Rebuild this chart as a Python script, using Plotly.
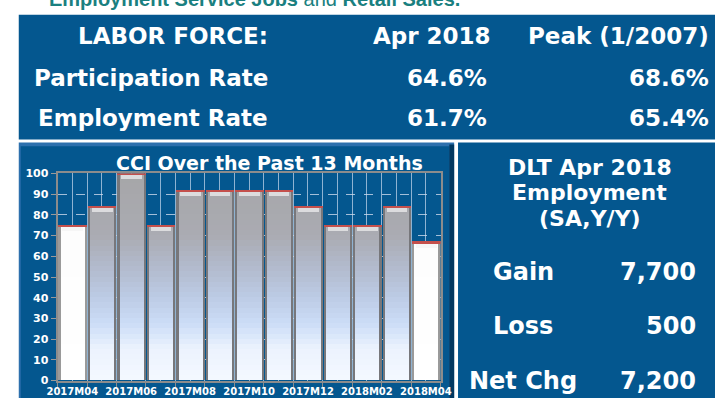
import plotly.graph_objects as go
import numpy as np

W, H = 726, 405
BLUE = "#04578f"

# ---------------- data ----------------
months = ["2017M04", "2017M05", "2017M06", "2017M07", "2017M08", "2017M09", "2017M10",
          "2017M11", "2017M12", "2018M01", "2018M02", "2018M03", "2018M04"]
cci = [75, 84, 100, 75, 92, 92, 92, 92, 84, 75, 75, 84, 67]
highlight = [True, False, False, False, False, False, False, False, False, False, False, False, True]

labor_rows = ["LABOR FORCE:", "Participation Rate", "Employment Rate"]
apr_vals = ["Apr 2018", "64.6%", "61.7%"]
peak_vals = ["Peak (1/2007)", "68.6%", "65.4%"]

dlt_title = ["DLT Apr 2018", "Employment", "(SA,Y/Y)"]
dlt_labels = ["Gain", "Loss", "Net Chg"]
dlt_values = [7700, 500, 7200]

chart_title = "CCI Over the Past 13 Months"
header_text = "<b>Employment Service Jobs</b> and <b>Retail Sales.</b>"

# ---------------- helpers ----------------
def px(x, y):
    return x / W, 1 - y / H

def rect(x0, y0, x1, y1, color):
    return dict(type="rect", xref="paper", yref="paper", layer="below",
                x0=x0 / W, x1=x1 / W, y0=1 - y1 / H, y1=1 - y0 / H,
                fillcolor=color, line_width=0)

def lerp_color(stops, t):
    for i in range(len(stops) - 1):
        a, ca = stops[i]
        b, cb = stops[i + 1]
        if a <= t <= b:
            f = (t - a) / (b - a) if b > a else 0
            c = [int(round(ca[j] + (cb[j] - ca[j]) * f)) for j in range(3)]
            return "rgb(%d,%d,%d)" % tuple(c)
    c = stops[-1][1]
    return "rgb(%d,%d,%d)" % tuple(c)

grad_stops = [(0, (244, 248, 255)), (15, (236, 243, 254)), (27, (204, 221, 247)),
              (40, (188, 203, 229)), (55, (178, 186, 204)), (70, (170, 171, 178)),
              (100, (166, 166, 168))]
white_stops = [(0, (255, 255, 255)), (100, (252, 252, 252))]

x = list(range(len(months)))
vals = np.array(cci, dtype=float)

fig = go.Figure()

# side (3D edge) bars
fig.add_trace(go.Bar(x=x, y=cci, width=0.97,
                     marker=dict(color=["#9a9a9a" if h else "#77777b" for h in highlight],
                                 line_width=0),
                     hoverinfo="skip", showlegend=False))

# gradient body bands
step = 2.5
for b in np.arange(0, 100, step):
    seg = np.clip(vals - b, 0, step)
    cols = [lerp_color(white_stops if h else grad_stops, b + step / 2) for h in highlight]
    fig.add_trace(go.Bar(x=x, y=seg.tolist(), base=[float(b)] * len(x), width=0.82,
                         marker=dict(color=cols, line_width=0),
                         hoverinfo="skip", showlegend=False))

# top bevel highlight
fig.add_trace(go.Bar(x=x, y=[2.2] * len(x), base=(vals - 3.0).tolist(), width=0.7,
                     marker=dict(color=["#f6f6f6" if h else "#dcdcde" for h in highlight],
                                 line_width=0),
                     hoverinfo="skip", showlegend=False))
# red top rim
fig.add_trace(go.Bar(x=x, y=[0.8] * len(x), base=(vals - 0.8).tolist(), width=0.97,
                     marker=dict(color="#c4504c", line_width=0),
                     hoverinfo="skip", showlegend=False))

shapes = [
    rect(8, 9, 726, 138, BLUE),
    rect(8, 141, 457, 405, "#2d70ad"),
    rect(10, 145, 452, 405, BLUE),
    rect(452, 143, 457, 405, "#023860"),
    rect(461, 141, 726, 405, BLUE),
]

annotations = []
def text(xp, yp, s, size, anchor="center", family="DejaVu Sans", color="white", bold=True, yanchor="middle"):
    ax, ay = px(xp, yp)
    annotations.append(dict(xref="paper", yref="paper", x=ax, y=ay, xanchor=anchor, yanchor=yanchor,
                            text=("<b>%s</b>" % s) if bold else s, showarrow=False,
                            font=dict(family=family, size=size, color=color)))

# header (cut off at the top edge, as in the source image)
text(37, 6, header_text, 20, anchor="left", family="Liberation Sans", color="#1a8080",
     bold=False, yanchor="bottom")

# labor force table
row_y = [31, 74, 116]
for i in range(3):
    text(267, row_y[i], labor_rows[i], 23, anchor="right")
    text(497 if i == 0 else 493, row_y[i], apr_vals[i], 23, anchor="right")
    text(722, row_y[i], peak_vals[i], 23, anchor="right")

# DLT panel
for s, yy in zip(dlt_title, [167, 193, 220]):
    text(597, yy, s, 22)
for lab, v, yy in zip(dlt_labels, dlt_values, [275, 331, 387]):
    text(528, yy, lab, 24)
    text(708, yy, f"{v:,}", 24, anchor="right")

# chart title
text(267, 162, chart_title, 19)

fig.update_layout(
    width=W, height=H, margin=dict(l=0, r=0, t=0, b=0),
    paper_bgcolor="white", plot_bgcolor="rgba(0,0,0,0)",
    barmode="overlay", bargap=0,
    shapes=shapes, annotations=annotations, showlegend=False,
    xaxis=dict(domain=[48 / W, 443 / W], range=[-0.5, 12.5],
               tickvals=x, ticktext=[m if i % 2 == 0 else "" for i, m in enumerate(months)],
               ticks="", showgrid=True, gridcolor="rgba(190,210,232,0.75)", gridwidth=1,
               zeroline=False, showline=True, mirror=True, linecolor="#8c8c8c", linewidth=2,
               tickfont=dict(family="DejaVu Sans", size=10, color="white", weight="bold"),
               minor=dict(tick0=-0.5, dtick=1, showgrid=True, gridcolor="rgba(190,210,232,0.75)",
                          gridwidth=1, ticks="outside", ticklen=4, tickcolor="#8c8c8c"),
               fixedrange=True),
    yaxis=dict(domain=[18 / H, 232 / H], range=[0, 100], dtick=10,
               ticks="outside", ticklen=5, tickcolor="#9a9a9a",
               showgrid=True, griddash="dash", gridcolor="rgba(205,218,235,0.8)", gridwidth=1,
               zeroline=False, showline=True, mirror=True, linecolor="#8c8c8c", linewidth=2,
               tickfont=dict(family="DejaVu Sans", size=11, color="white", weight="bold"),
               fixedrange=True),
)

fig.write_html("out.html", config={"displayModeBar": False},
               post_script="document.body.style.margin='0';document.body.style.overflow='hidden';")
